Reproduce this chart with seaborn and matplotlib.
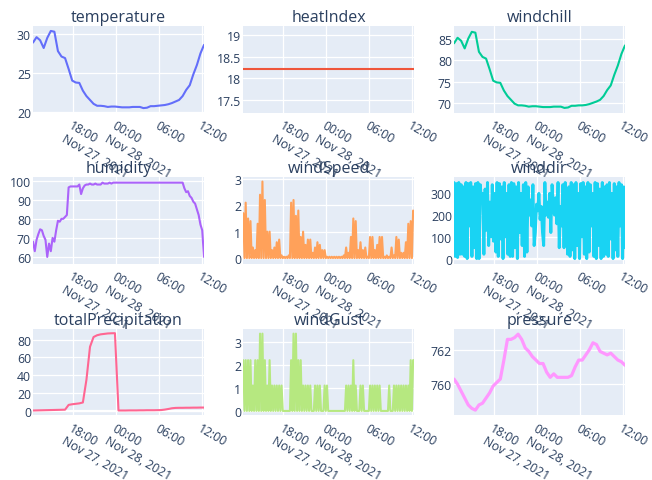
import numpy as np
import pandas as pd
import matplotlib
matplotlib.use("Agg")
import matplotlib.pyplot as plt
import matplotlib.dates as mdates
import seaborn as sns

# ---------------------------------------------------------------- data
START, END = "2021-11-27 12:23", "2021-11-28 12:17"

# half-hourly readings
temperature = [28.9, 29.6, 29.2, 28.2, 29.5, 30.4, 30.3, 27.8, 27.1, 26.9,
               25.5, 24.0, 23.75, 23.7, 22.7, 22.0, 21.5, 21.0, 20.75, 20.75,
               20.7, 20.6, 20.65, 20.65, 20.6, 20.55, 20.55, 20.55, 20.6, 20.6,
               20.6, 20.45, 20.5, 20.7, 20.7, 20.75, 20.8, 20.85, 20.95, 21.1,
               21.3, 21.5, 22.0, 22.8, 23.4, 24.8, 26.0, 27.5, 28.6]

heat_index = [18.2] * 49

windchill = [84.0, 85.3, 84.6, 82.8, 85.1, 86.7, 86.5, 82.0, 80.8, 80.4,
             77.9, 75.2, 74.8, 74.7, 72.9, 71.6, 70.7, 69.8, 69.4, 69.4,
             69.3, 69.1, 69.2, 69.2, 69.1, 69.0, 69.0, 69.0, 69.1, 69.1,
             69.1, 68.8, 68.9, 69.3, 69.3, 69.4, 69.4, 69.5, 69.7, 70.0,
             70.3, 70.7, 71.6, 73.0, 74.1, 76.6, 78.8, 81.5, 83.5]

total_precipitation = [0.5, 0.6, 0.7, 0.8, 0.9, 1.0, 1.1, 1.2, 1.3, 1.4,
                       6.8, 7.5, 8.0, 8.5, 9.5, 35.0, 72.0, 83.0, 85.0, 86.0,
                       86.5, 87.0, 87.2, 87.3, 0.5, 0.5, 0.5, 0.6, 0.6, 0.6,
                       0.7, 0.7, 0.8, 0.8, 0.8, 0.9, 1.0, 1.5, 2.2, 3.0,
                       3.4, 3.5, 3.5, 3.6, 3.6, 3.7, 3.7, 3.8, 3.8]

pressure = [760.3, 760.0, 759.6, 759.2, 758.8, 758.6, 758.5, 758.8, 758.9, 759.2,
            759.5, 759.9, 760.1, 760.3, 761.4, 762.6, 762.6, 762.7, 762.9, 762.6,
            762.1, 761.9, 761.6, 761.4, 761.2, 761.2, 760.7, 760.4, 760.6, 760.4,
            760.4, 760.4, 760.4, 760.5, 761.0, 761.4, 761.4, 761.7, 762.0, 762.4,
            762.3, 761.9, 761.8, 761.7, 761.8, 761.6, 761.4, 761.3, 761.1]

# quarter-hourly readings
humidity = [68, 63, 69, 72, 74.5, 74, 71, 69, 60, 67,
            63, 70, 68, 74, 79, 78.5, 80, 80, 81, 82,
            96.5, 97, 97, 97, 97, 97, 98, 93, 96, 97.5,
            98, 98, 98.5, 98, 98, 98.5, 98, 98, 98,
            99, 98.5, 98.5, 98.5, 99, 98.5, 99] + [99] * 39 + \
           [96, 94, 94.5, 92, 91, 89, 88, 85, 82, 77, 74, 60]

# ten-minute readings
wind_speed = [1.7, 0, 2.1, 0, 1.5, 0, 1.4, 0, 0.4, 0, 0.3, 0, 1.3, 0, 2.4, 0,
              2.9, 0, 2.2, 0, 1.0, 0, 1.0, 0, 0.3, 0, 0.4, 0, 0.6, 0, 0.7, 0,
              0.1, 0, 0.05, 0, 0.05, 0, 0.1, 0, 2.1, 0, 2.2, 0, 1.6, 0, 1.8, 0,
              0.8, 0, 1.0, 0, 0.5, 0, 0.7, 0, 0.7, 0, 0.2, 0, 0.4, 0, 0.6, 0,
              0.5, 0, 0.3, 0, 0.3, 0, 0.05, 0, 0.05, 0, 0.05, 0, 0.05, 0, 0.05, 0,
              0.05, 0, 0.05, 0, 0.1, 0, 0.4, 0, 0.2, 0, 0.8, 0, 1.5, 0, 1.4, 0,
              0.3, 0, 0.6, 0, 0.3, 0, 0.4, 0, 0.05, 0, 0.8, 0, 0.8, 0, 0.3, 0,
              0.5, 0, 0.8, 0, 0.8, 0, 0.05, 0, 0.1, 0, 0.05, 0, 0.4, 0, 0.1, 0,
              0.8, 0, 0.7, 0, 0.2, 0, 0.2, 0, 0.6, 0, 1.3, 0, 1.4, 0, 1.8, 1.75]

wind_dir = [350, 10, 345, 5, 350, 20, 340, 20, 330, 10,
            350, 0, 345, 150, 350, 10, 330, 50, 345, 0,
            350, 0, 340, 260, 300, 20, 320, 130, 350, 60,
            260, 100, 340, 80, 300, 30, 350, 10, 345, 90,
            330, 0, 350, 100, 300, 20, 340, 10, 350, 10,
            345, 50, 330, 0, 350, 120, 300, 60, 340, 10,
            350, 30, 330, 200, 270, 150, 340, 60, 120, 250,
            220, 300, 180, 240, 120, 60, 350, 200, 260, 190,
            300, 120, 340, 250, 200, 280, 160, 350, 50, 240,
            150, 340, 50, 350, 200, 20, 330, 10, 350, 40,
            340, 0, 350, 60, 300, 0, 345, 100, 350, 20,
            330, 0, 350, 30, 340, 150, 300, 10, 350, 0,
            345, 60, 320, 0, 350, 10, 330, 20, 340, 10,
            350, 90, 300, 0, 345, 40, 330, 10, 350, 150,
            340, 0, 330, 50]

wind_gust = [2.2, 0, 2.2, 0, 2.2, 0, 2.2, 0, 1.1, 0, 2.2, 0, 2.2, 0, 3.35, 0,
             3.35, 0, 2.2, 0, 1.1, 0, 2.2, 0, 1.1, 0, 1.1, 0, 1.1, 0, 1.1, 0,
             1.1, 0, 0, 0, 0, 0, 0, 0, 2.2, 0, 3.35, 0, 3.35, 0, 2.2, 0,
             2.2, 0, 1.1, 0, 1.1, 0, 1.1, 0, 1.1, 0, 0, 0, 1.1, 0, 1.1, 0,
             1.1, 0, 0, 0, 1.1, 0, 1.1, 0, 0, 0, 0, 0, 0, 0, 0, 0,
             0, 0, 0, 0, 0, 0, 1.1, 0, 1.1, 0, 1.1, 0, 2.2, 0, 1.1, 0,
             0, 0, 1.1, 0, 1.1, 0, 0, 0, 0, 0, 1.1, 0, 1.1, 0, 1.1, 0,
             1.1, 0, 1.1, 0, 0, 0, 0, 0, 0, 0, 1.1, 0, 0, 0, 1.1, 0,
             1.1, 0, 1.1, 0, 1.1, 0, 1.1, 0, 1.1, 0, 1.1, 0, 2.2, 0, 2.2, 2.2]

tick_times = ["2021-11-27 18:00", "2021-11-28 00:00",
              "2021-11-28 06:00", "2021-11-28 12:00"]
tick_labels = ["18:00\nNov 27, 2021", "00:00\nNov 28, 2021", "06:00", "12:00"]

titles = ["temperature", "heatIndex", "windchill",
          "humidity", "windSpeed", "winddir",
          "totalPrecipitation", "windGust", "pressure"]
series = [temperature, heat_index, windchill,
          humidity, wind_speed, wind_dir,
          total_precipitation, wind_gust, pressure]

colors = ["#636EFA", "#EF553B", "#00CC96",
          "#AB63FA", "#FFA15A", "#19D3F3",
          "#FF6692", "#B6E880", "#FF97FF"]
ylims = [(19.87, 31.0), (17.2, 19.2), (67.7, 88.0),
         (56.5, 101.8), (-0.21, 3.06), (-23, 374),
         (-4.9, 92), (-0.19, 3.55), (758.2, 763.2)]
yticks = [[20, 25, 30], [17.5, 18, 18.5, 19], [70, 75, 80, 85],
          [60, 70, 80, 90, 100], [0, 1, 2, 3], [0, 100, 200, 300],
          [0, 20, 40, 60, 80], [0, 1, 2, 3], [760, 762]]
ytick_labels = [["20", "25", "30"], ["17.5", "18", "18.5", "19"],
                ["70", "75", "80", "85"], ["60", "70", "80", "90", "100"],
                ["0", "1", "2", "3"], ["0", "100", "200", "300"],
                ["0", "20", "40", "60", "80"], ["0", "1", "2", "3"],
                ["760", "762"]]
widths = [1.5, 1.5, 1.5, 1.5, 1.5, 2.1, 1.5, 1.5, 2.3]

# ---------------------------------------------------------------- style
sns.set_theme(style="white")
plt.rcParams["font.family"] = ["Open Sans", "DejaVu Sans"]
TEXT = "#2a3f5f"
BG = "#E5ECF6"

W, H = 652, 481
fig = plt.figure(figsize=(W / 100, H / 100), dpi=100)
fig.patch.set_facecolor("white")

col_left = [33, 243.3, 454]
row_top = [27.3, 178.3, 330]
pw, ph = 171, 86.3

tick_nums = mdates.date2num(pd.to_datetime(tick_times).to_pydatetime())
x0 = mdates.date2num(pd.Timestamp(START).to_pydatetime())
x1 = mdates.date2num(pd.Timestamp(END).to_pydatetime())

for i, (name, vals) in enumerate(zip(titles, series)):
    r, c = divmod(i, 3)
    ax = fig.add_axes([col_left[c] / W, 1 - (row_top[r] + ph) / H, pw / W, ph / H])
    times = pd.date_range(START, END, periods=len(vals))
    df = pd.DataFrame({"time": times, "value": vals})
    ax.set_facecolor(BG)
    lo, hi = ylims[i]
    if lo < 0 < hi:
        ax.axhline(0, color="white", lw=1.6, zorder=1)
    sns.lineplot(data=df, x="time", y="value", ax=ax, color=colors[i],
                 linewidth=widths[i], estimator=None, sort=False, zorder=3)
    ax.set_xlabel("")
    ax.set_ylabel("")
    ax.set_xlim(x0, x1)
    ax.set_ylim(lo, hi)
    ax.set_yticks(yticks[i])
    ax.set_yticklabels(ytick_labels[i])
    ax.set_xticks(tick_nums)
    ax.set_xticklabels(tick_labels, rotation=-30, ha="left", va="top",
                       rotation_mode="anchor")
    ax.grid(True, color="white", lw=0.9)
    ax.set_axisbelow(True)
    for s in ax.spines.values():
        s.set_visible(False)
    ax.tick_params(axis="both", length=0, labelsize=8.8, colors=TEXT)
    ax.tick_params(axis="y", pad=1.5)
    ax.tick_params(axis="x", pad=4)
    ax.set_title(name, fontsize=11.5, color=TEXT, pad=3.6)

fig.savefig("out.png", dpi=100, facecolor="white")
